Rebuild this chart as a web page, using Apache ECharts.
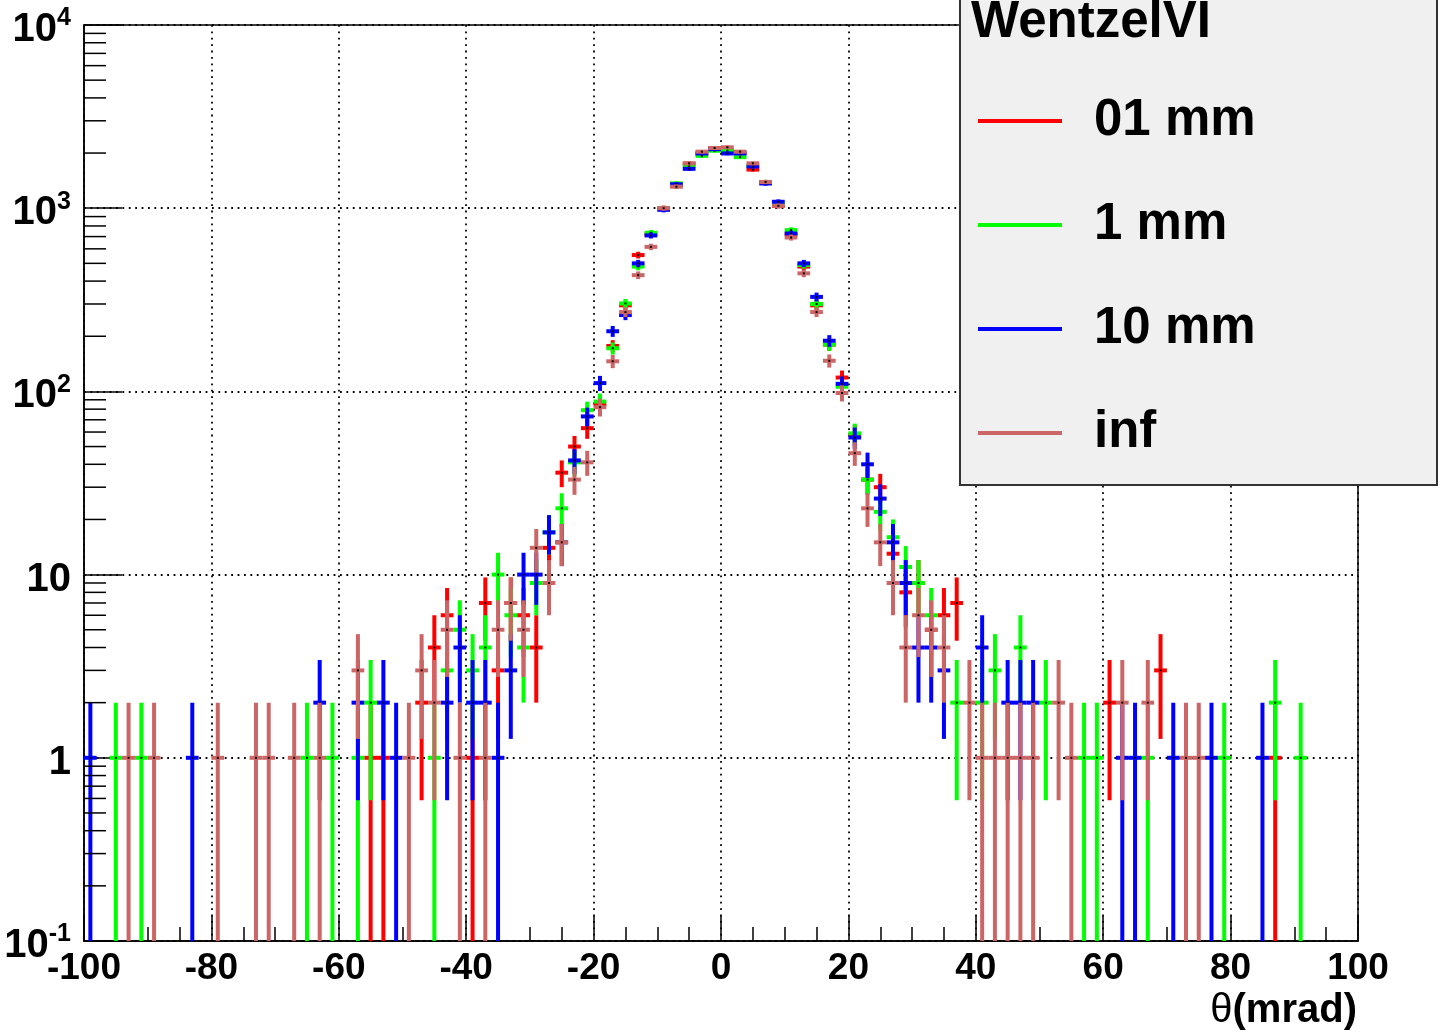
<!DOCTYPE html>
<html><head><meta charset="utf-8">
<script src="https://cdn.jsdelivr.net/npm/echarts@6/dist/echarts.min.js"></script>
<style>html,body{margin:0;padding:0;background:#fff}#c{width:1441px;height:1035px}</style>
</head><body><div id="c"></div>
<script>
// Histogram binning: 100 bins of 2 mrad from -100 to 100
const binLow = -100;
const binWidth = 2;

// Counts per bin (bin 0 = [-100,-98]) for each step limit
const red01mm = [
  0,0,0,0,0,0,0,0,0,0,
  0,0,0,0,0,0,0,0,0,0,
  0,0,1,1,0,0,2,4,6,0,
  1,7,3,7,6,4,14,36,50,63,
  85,177,295,555,720,1000,1340,1750,1990,2120,
  2080,2000,1625,1390,1030,720,480,295,180,119,
  58,33,30,13,8,9,5,6,7,0,
  0,0,0,0,0,0,0,0,0,0,
  2,0,0,0,3,0,0,0,0,0,
  0,0,0,1,0,0,0,0,0,0
];
const green1mm = [
  0,0,1,0,1,0,0,0,0,0,
  0,0,0,0,0,0,0,1,0,1,
  0,1,2,0,0,0,0,1,3,5,
  3,4,10,6,4,9,17,23,41,79,
  88,172,302,480,734,998,1365,1700,1930,2060,
  2060,1900,1700,1390,1060,759,490,300,180,106,
  59,33,22,16,11,9,6,0,2,0,
  2,3,0,4,0,2,0,0,1,1,
  0,0,0,1,0,0,0,0,0,1,
  0,0,0,2,0,1,0,0,0,0
];
const blue10mm = [
  1,0,0,0,0,0,0,0,1,0,
  0,0,0,0,0,0,0,0,2,0,
  0,2,0,2,1,0,0,0,2,4,
  2,2,1,3,10,10,17,15,42,73,
  111,213,261,500,710,980,1350,1640,1990,2100,
  1990,1990,1690,1364,1084,727,500,328,189,110,
  56,40,26,15,9,4,4,3,0,0,
  4,0,2,2,2,0,0,0,0,0,
  0,1,1,0,0,1,0,0,1,0,
  0,0,1,0,0,0,0,0,0,0
];
const brownInf = [
  0,0,0,1,0,1,0,0,0,0,
  1,0,0,1,1,0,1,0,1,0,
  0,3,0,0,0,1,3,2,5,1,
  0,1,5,7,5,14,9,15,33,41,
  82,146,271,431,615,1000,1310,1757,2035,2130,
  2150,2035,1757,1390,1030,692,441,271,147,98,
  46,23,15,9,4,6,5,4,0,2,
  1,1,1,1,1,0,2,1,0,0,
  0,2,0,2,0,0,1,1,0,0,
  0,0,0,0,0,0,0,0,0,0
];

const seriesNames = ['01 mm', '1 mm', '10 mm', 'inf'];
const seriesColors = ['#ff0000', '#00ff00', '#0000ff', '#cc6666'];
const seriesCounts = [red01mm, green1mm, blue10mm, brownInf];

const yTickLabels = ['10^-1', '1', '10', '10^2', '10^3', '10^4']; // for 0.1 .. 10^4
const yMinorTicks = [0.2,0.3,0.4,0.5,0.6,0.7,0.8,0.9, 2,3,4,5,6,7,8,9,
  20,30,40,50,60,70,80,90, 200,300,400,500,600,700,800,900,
  2000,3000,4000,5000,6000,7000,8000,9000];

const FONT = '"Liberation Sans", Arial, Helvetica, sans-serif';

function toSeriesData(counts) {
  const out = [];
  counts.forEach((n, i) => {
    if (n > 0) out.push([binLow + binWidth * (i + 0.5), n, Math.sqrt(n)]);
  });
  return out;
}

function makeRender(color) {
  return function (params, api) {
    const x = api.value(0), y = api.value(1), e = api.value(2);
    const cs = params.coordSys;
    const bottom = cs.y + cs.height;
    const pc = api.coord([x, y]);
    let yTop = api.coord([x, y + e])[1];
    yTop = Math.max(yTop, cs.y);
    const low = y - e;
    let yLow = low > 0 ? api.coord([x, low])[1] : bottom;
    yLow = Math.min(yLow, bottom);
    const pL = api.coord([x - binWidth / 2, y]);
    const pR = api.coord([x + binWidth / 2, y]);
    return {
      type: 'group',
      children: [
        { type: 'line', shape: { x1: pc[0], y1: yTop, x2: pc[0], y2: yLow },
          style: { stroke: color, lineWidth: 4 } },
        { type: 'line', shape: { x1: pL[0], y1: pc[1], x2: pR[0], y2: pc[1] },
          style: { stroke: color, lineWidth: 4 } },
        { type: 'rect', shape: { x: pc[0] - 1, y: pc[1] - 1, width: 2, height: 2 },
          style: { fill: '#000' } }
      ]
    };
  };
}

function yLabel(v) {
  const k = Math.round(Math.log10(v));
  const s = yTickLabels[k + 1];
  if (s === undefined) return '';
  const parts = s.split('^');
  if (parts.length === 2) return '{b|' + parts[0] + '}{s|' + parts[1] + '}';
  return '{b|' + s + '}';
}

const chart = echarts.init(document.getElementById('c'), null, { renderer: 'canvas' });

const series = seriesNames.map((name, i) => ({
  name: name,
  type: 'custom',
  coordinateSystem: 'cartesian2d',
  renderItem: makeRender(seriesColors[i]),
  itemStyle: { color: seriesColors[i] },
  encode: { x: 0, y: 1 },
  data: toSeriesData(seriesCounts[i]),
  z: 2 + i * 0.01,
  silent: true,
  animation: false
}));

series.push({
  name: 'yMinorTicks',
  type: 'custom',
  coordinateSystem: 'cartesian2d',
  renderItem: function (params, api) {
    const p = api.coord([api.value(0), api.value(1)]);
    return { type: 'line', shape: { x1: p[0], y1: p[1], x2: p[0] + 22, y2: p[1] },
      style: { stroke: '#000', lineWidth: 1.5 } };
  },
  data: yMinorTicks.map(v => [binLow, v]),
  encode: { x: 0, y: 1 },
  silent: true,
  animation: false,
  z: 3
});

const gridLine = { color: '#000', width: 1.8, type: [1.8, 4.6] };

const option = {
  backgroundColor: '#ffffff',
  animation: false,
  grid: { left: 84, right: 83, top: 25, bottom: 94, show: true,
    borderColor: '#000', borderWidth: 1.5, backgroundColor: 'transparent' },
  xAxis: {
    type: 'value', min: -100, max: 100, interval: 20,
    axisLine: { show: true, onZero: false, lineStyle: { color: '#000', width: 1.5 } },
    axisTick: { show: true, inside: true, length: 25, lineStyle: { color: '#000', width: 1.5 } },
    minorTick: { show: true, splitNumber: 4, length: 14, lineStyle: { color: '#000', width: 1.5 } },
    splitLine: { show: true, lineStyle: gridLine },
    axisLabel: { show: true, margin: 9, color: '#000', fontSize: 37, fontWeight: 'bold',
      fontFamily: FONT, showMinLabel: true, showMaxLabel: true }
  },
  yAxis: {
    type: 'log', logBase: 10, min: 0.1, max: 10000, splitNumber: 5,
    axisLine: { show: true, onZero: false, lineStyle: { color: '#000', width: 1.5 } },
    axisTick: { show: true, inside: true, length: 38, lineStyle: { color: '#000', width: 1.5 } },
    splitLine: { show: true, lineStyle: gridLine },
    axisLabel: {
      show: true, margin: 13, color: '#000', showMinLabel: true, showMaxLabel: true,
      padding: [10, 0, 0, 0],
      formatter: yLabel,
      rich: {
        b: { fontSize: 40, fontWeight: 'bold', fontFamily: FONT, color: '#000', lineHeight: 48, verticalAlign: 'middle' },
        s: { fontSize: 25, fontWeight: 'bold', fontFamily: FONT, color: '#000', lineHeight: 24, verticalAlign: 'top' }
      }
    }
  },
  legend: {
    show: true, orient: 'vertical', left: 978, top: 91, padding: 0,
    itemWidth: 84, itemHeight: 4, itemGap: 44, z: 20,
    selectedMode: false,
    data: seriesNames.map((n, i) => ({ name: n, icon: 'rect', itemStyle: { color: seriesColors[i] } })),
    textStyle: { fontSize: 51, fontWeight: 'bold', fontFamily: FONT, color: '#000',
      lineHeight: 54, padding: [6, 0, 0, 27] }
  },
  graphic: [
    { type: 'rect', z: 15, shape: { x: 960, y: -5, width: 477, height: 490 },
      style: { fill: '#f0f0f0', stroke: '#333', lineWidth: 2 } },
    { type: 'text', z: 16, x: 971, y: 23,
      style: { text: 'WentzelVI', font: 'bold 51px ' + FONT, fill: '#000',
        textAlign: 'left', textVerticalAlign: 'middle' } },
    { type: 'text', z: 16, x: 1357, y: 1011,
      style: { text: '{t|θ}{b|(mrad)}', textAlign: 'right', textVerticalAlign: 'middle',
        rich: {
          t: { fontSize: 40, fontFamily: FONT, fill: '#000', color: '#000' },
          b: { fontSize: 40, fontWeight: 'bold', fontFamily: FONT, fill: '#000', color: '#000' }
        } } }
  ],
  series: series
};

chart.setOption(option);
</script>
</body></html>
